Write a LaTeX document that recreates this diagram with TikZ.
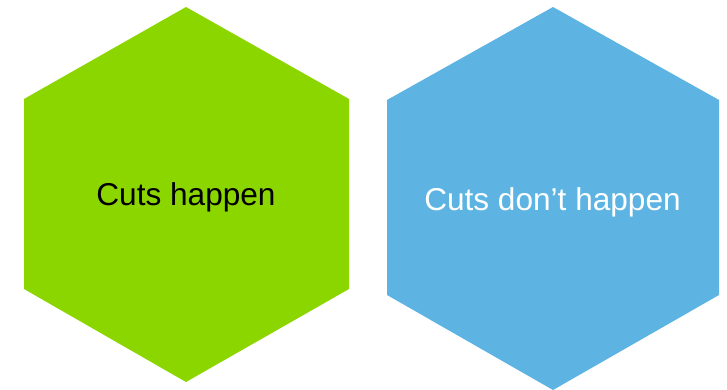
\documentclass[tikz,border=0pt]{standalone}
\usepackage{fontspec}
\setmainfont{Liberation Sans}
\definecolor{hexgreen}{RGB}{140,214,0}
\definecolor{hexblue}{RGB}{93,180,227}
\begin{document}
\begin{tikzpicture}[x=1pt,y=-1pt,
  hexlabel/.style={anchor=base,inner sep=0pt,font=\fontsize{31.6}{36}\selectfont}]
\useasboundingbox (0,0) rectangle (727,390);
\fill[white] (0,0) rectangle (727,390);
\fill[hexgreen] (186,7) -- (349,99) -- (349,289) -- (186,382) -- (24,289) -- (24,99) -- cycle;
\fill[hexblue] (553,7) -- (719,100) -- (719,295) -- (553,390) -- (387,295) -- (387,100) -- cycle;
\node[hexlabel,text=black] (g) at (186,205) {Cuts happen};
\node[hexlabel,text=white] (b) at (552.5,210) {Cuts don’t happen};
\end{tikzpicture}
\end{document}
